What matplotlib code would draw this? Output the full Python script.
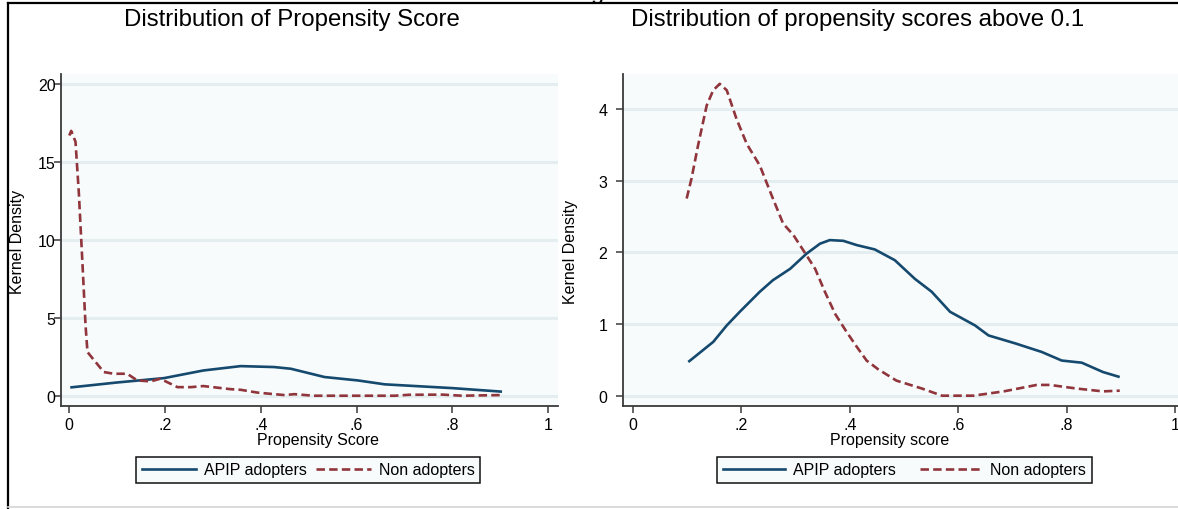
import numpy as np
import matplotlib
matplotlib.use("Agg")
import matplotlib.pyplot as plt
from matplotlib.lines import Line2D

plt.rcParams['font.family'] = ['Liberation Sans', 'DejaVu Sans']

NAVY = "#15496e"
MAROON = "#90353b"
PLOTBG = "#f7fbfc"
GRID = "#e4eef0"
AXC = "#3a3a3a"

# panel 1: whole range
apip_x1 = [0.002, 0.10, 0.198, 0.28, 0.358, 0.428, 0.463, 0.533, 0.603, 0.659, 0.799, 0.904]
apip_y1 = [0.53, 0.85, 1.13, 1.62, 1.90, 1.84, 1.73, 1.20, 0.98, 0.73, 0.49, 0.26]

non_x1 = [0.0, 0.004, 0.013, 0.02, 0.027, 0.034, 0.038, 0.058, 0.072, 0.093, 0.121, 0.142,
          0.17, 0.19, 0.226, 0.254, 0.28, 0.337, 0.358, 0.393, 0.428, 0.45, 0.47, 0.51,
          0.68, 0.71, 0.78, 0.82, 0.9]
non_y1 = [16.7, 17.0, 16.3, 13.0, 8.8, 4.5, 2.8, 2.05, 1.52, 1.41, 1.41, 0.98,
          0.92, 1.09, 0.55, 0.55, 0.62, 0.42, 0.38, 0.2, 0.1, 0.04, 0.1, 0.0,
          0.0, 0.06, 0.07, 0.0, 0.04]

# panel 2: scores above 0.1
apip_x2 = [0.102, 0.148, 0.173, 0.197, 0.234, 0.258, 0.29, 0.32, 0.345, 0.363, 0.388, 0.413,
           0.446, 0.483, 0.52, 0.551, 0.585, 0.631, 0.656, 0.705, 0.754, 0.791, 0.828, 0.867, 0.898]
apip_y2 = [0.47, 0.75, 0.98, 1.17, 1.45, 1.61, 1.77, 1.98, 2.12, 2.17, 2.16, 2.10,
           2.04, 1.89, 1.63, 1.45, 1.17, 0.98, 0.84, 0.73, 0.61, 0.49, 0.46, 0.33, 0.26]

non_x2 = [0.099, 0.108, 0.12, 0.136, 0.148, 0.16, 0.173, 0.191, 0.21, 0.234, 0.256, 0.277,
          0.296, 0.314, 0.336, 0.354, 0.373, 0.394, 0.413, 0.431, 0.452, 0.486, 0.533, 0.57,
          0.628, 0.684, 0.745, 0.769, 0.818, 0.867, 0.898]
non_y2 = [2.75, 3.03, 3.49, 4.05, 4.26, 4.35, 4.26, 3.86, 3.51, 3.21, 2.79, 2.40,
          2.24, 2.03, 1.77, 1.45, 1.14, 0.89, 0.68, 0.49, 0.37, 0.21, 0.10, 0.0,
          0.0, 0.06, 0.15, 0.15, 0.10, 0.06, 0.07]

xticks = [0, 0.2, 0.4, 0.6, 0.8, 1]
xticklabels = ["0", ".2", ".4", ".6", ".8", "1"]

W, H = 1178, 510
fig = plt.figure(figsize=(W / 100, H / 100), dpi=100)


def px_axes(x0, x1, ytop, ybot):
    return fig.add_axes([x0 / W, 1 - ybot / H, (x1 - x0) / W, (ybot - ytop) / H])


def style(ax, yticks, ypad):
    ax.set_facecolor(PLOTBG)
    for s in ["top", "right"]:
        ax.spines[s].set_visible(False)
    for s in ["left", "bottom"]:
        ax.spines[s].set_color(AXC)
        ax.spines[s].set_linewidth(1.3)
    ax.set_xticks(xticks)
    ax.set_xticklabels(xticklabels)
    ax.set_yticks(yticks)
    ax.grid(axis="y", color=GRID, linewidth=2.2)
    ax.set_axisbelow(True)
    ax.tick_params(axis="x", direction="out", length=5, width=1.1, color=AXC, pad=3, labelsize=11.5)
    ax.tick_params(axis="y", direction="out", length=5, width=1.1, color=AXC, pad=ypad, labelsize=11.5)


ax1 = px_axes(61, 558, 75, 407)
ax1.plot(apip_x1, apip_y1, color=NAVY, lw=1.9, solid_capstyle="butt")
ax1.plot(non_x1, non_y1, color=MAROON, lw=1.9, dashes=(3.2, 1.6))
ax1.set_xlim(-0.0173, 1.0209)
ax1.set_ylim(-0.66, 20.65)
style(ax1, [0, 5, 10, 15, 20], -1)

ax2 = px_axes(622.7, 1178, 75, 407)
ax2.plot(apip_x2, apip_y2, color=NAVY, lw=1.9, solid_capstyle="butt")
ax2.plot(non_x2, non_y2, color=MAROON, lw=1.9, dashes=(3.2, 1.6))
ax2.set_xlim(-0.019, 1.0055)
ax2.set_ylim(-0.144, 4.487)
style(ax2, [0, 1, 2, 3, 4], 6)

# titles and labels
fig.text(291.5 / W, 1 - 20 / H, "Distribution of Propensity Score", ha="center", va="center", fontsize=17.3)
fig.text(858 / W, 1 - 20 / H, "Distribution of propensity scores above 0.1", ha="center", va="center", fontsize=17.3)
fig.text(318 / W, 1 - 440 / H, "Propensity Score", ha="center", va="center", fontsize=11.5)
fig.text(890 / W, 1 - 440 / H, "Propensity score", ha="center", va="center", fontsize=11.5)
fig.text(18 / W, 1 - 242 / H, "Kernel Density", ha="center", va="center", rotation=90, fontsize=11.5)
fig.text(570 / W, 1 - 252 / H, "Kernel Density", ha="center", va="center", rotation=90, fontsize=11.5)

# legends
handles = [Line2D([], [], color=NAVY, lw=1.9),
           Line2D([], [], color=MAROON, lw=1.9, dashes=(3.2, 1.6))]
labels = ["APIP adopters", "Non adopters"]
for cx, hl, cs in [(308, 3.4, 0.6), (904.5, 3.9, 1.5)]:
    leg = fig.legend(handles, labels, loc="center", bbox_to_anchor=(cx / W, 1 - 471 / H),
                     ncol=2, fontsize=11.5, frameon=True, fancybox=False,
                     handlelength=hl, handletextpad=0.5, columnspacing=cs,
                     borderpad=0.35, borderaxespad=0)
    fr = leg.get_frame()
    fr.set_edgecolor("#111111")
    fr.set_linewidth(1.1)
    fr.set_facecolor(PLOTBG)
    fr.set_alpha(1)

# outer frame pieces of the cropped page
fig.add_artist(Line2D([8 / W, 1], [1 - 4 / H, 1 - 4 / H], color="black", lw=1.6))
fig.add_artist(Line2D([8 / W, 8 / W], [0, 1 - 4 / H], color="black", lw=1.6))
fig.add_artist(Line2D([8 / W, 1], [1 - 508 / H, 1 - 508 / H], color="#d4d4d4", lw=1.2))
fig.text(598 / W, 1 + 1 / H, "g", ha="center", va="baseline", fontsize=17)

fig.savefig("out.png", dpi=100)
